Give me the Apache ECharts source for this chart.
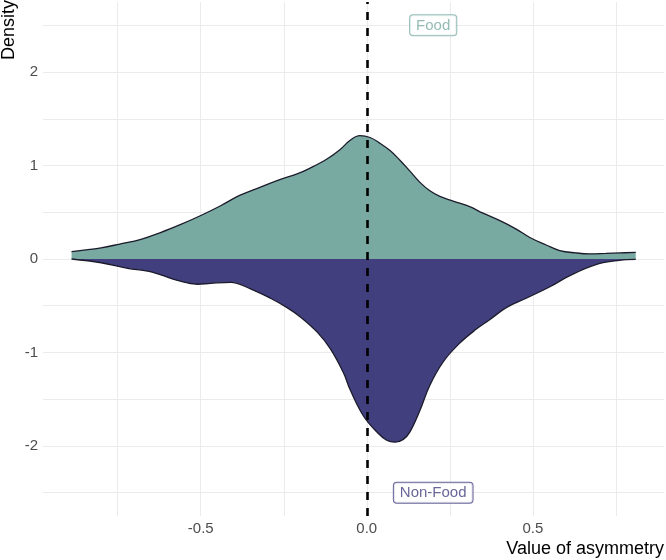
<!DOCTYPE html>
<html>
<head>
<meta charset="utf-8">
<script src="https://cdn.jsdelivr.net/npm/echarts@6/dist/echarts.min.js"></script>
<style>html,body{margin:0;padding:0;background:#fff}#c{width:666px;height:560px}</style>
</head>
<body>
<div id="c"></div>
<script>
// Food density (upper half)
const foodX = [-0.889,-0.80,-0.744,-0.68,-0.623,-0.56,-0.503,-0.44,-0.383,-0.32,-0.262,-0.21,-0.172,-0.12,-0.081,-0.05,-0.021,0.01,0.039,0.07,0.099,0.13,0.160,0.19,0.220,0.26,0.310,0.35,0.401,0.45,0.491,0.54,0.581,0.63,0.672,0.72,0.762,0.81];
const foodY = [0.08,0.12,0.16,0.21,0.28,0.37,0.46,0.57,0.68,0.77,0.85,0.91,0.97,1.07,1.17,1.27,1.32,1.30,1.24,1.16,1.06,0.94,0.82,0.73,0.67,0.62,0.56,0.49,0.41,0.32,0.23,0.15,0.09,0.065,0.055,0.06,0.065,0.07];
// Non-Food density (drawn mirrored below zero)
const nonFoodX = [-0.889,-0.80,-0.72,-0.66,-0.62,-0.57,-0.51,-0.47,-0.41,-0.35,-0.29,-0.24,-0.20,-0.15,-0.11,-0.07,-0.05,-0.01,0.03,0.06,0.085,0.11,0.13,0.16,0.19,0.23,0.28,0.33,0.37,0.42,0.48,0.55,0.61,0.69,0.76,0.81];
const nonFoodY = [0.0,0.04,0.10,0.13,0.17,0.23,0.27,0.26,0.25,0.32,0.42,0.52,0.62,0.78,0.96,1.22,1.40,1.68,1.85,1.94,1.96,1.93,1.85,1.62,1.35,1.10,0.90,0.75,0.65,0.52,0.42,0.30,0.18,0.06,0.015,0.005];
// Axis ticks and labels
const xTickLabels = [-0.5, 0, 0.5];
const xGridValues = [-0.75, -0.5, -0.25, 0, 0.25, 0.5, 0.75];
const yTickLabels = [-2, -1, 0, 1, 2];
const yGridValues = [-2.5, -2, -1.5, -1, -0.5, 0, 0.5, 1, 1.5, 2, 2.5];
const groupLabels = ['Food', 'Non-Food'];
const labelPos = [[0.2, 2.5], [0.2, -2.5]];

const foodColor = '#79AAA1';
const nonFoodColor = '#423F7E';
const outline = '#1b1b2b';

const foodData = foodX.map((x, i) => [x, foodY[i]]);
const nonFoodData = nonFoodX.map((x, i) => [x, -nonFoodY[i]]);

const chart = echarts.init(document.getElementById('c'), null, {renderer: 'canvas'});
const font = 'Liberation Sans, Arial, sans-serif';
chart.setOption({
  animation: false,
  backgroundColor: '#ffffff',
  grid: {left: 43, right: 2, top: 2, bottom: 44, containLabel: false},
  xAxis: {
    type: 'value', min: -0.975, max: 0.895,
    axisLine: {show: false},
    axisTick: {show: false, customValues: xGridValues},
    axisLabel: {customValues: xTickLabels, color: '#4D4D4D', fontSize: 15, fontFamily: font, margin: 5,
      formatter: v => v === 0 ? '0.0' : v.toFixed(1)},
    splitLine: {show: true, lineStyle: {color: '#EBEBEB', width: 1}}
  },
  yAxis: {
    type: 'value', min: -2.75, max: 2.75,
    axisLine: {show: false},
    axisTick: {show: false, customValues: yGridValues},
    axisLabel: {customValues: yTickLabels, color: '#4D4D4D', fontSize: 15, fontFamily: font, margin: 5,
      formatter: v => String(v)},
    splitLine: {show: true, lineStyle: {color: '#EBEBEB', width: 1}}
  },
  series: [
    {
      name: groupLabels[0], type: 'line', data: foodData, smooth: 0.4, symbol: 'none',
      lineStyle: {color: outline, width: 1.3},
      areaStyle: {color: foodColor, opacity: 1, origin: 0},
      z: 2
    },
    {
      name: groupLabels[1], type: 'line', data: nonFoodData, smooth: 0.4, symbol: 'none',
      lineStyle: {color: outline, width: 1.3},
      areaStyle: {color: nonFoodColor, opacity: 1, origin: 0},
      z: 2,
      markLine: {
        silent: true, symbol: 'none', label: {show: false},
        lineStyle: {color: '#000', width: 2.6, type: [8, 8]},
        data: [{xAxis: 0}]
      }
    },
    {
      type: 'scatter', symbolSize: 0, z: 5,
      data: [
        {value: labelPos[0], name: groupLabels[0], label: {color: foodColor, borderColor: foodColor}},
        {value: labelPos[1], name: groupLabels[1], label: {color: nonFoodColor, borderColor: nonFoodColor}}
      ],
      label: {
        show: true, position: 'inside', formatter: p => p.name,
        fontSize: 15, fontFamily: font, backgroundColor: '#fff', borderWidth: 1,
        borderRadius: 3, padding: [3, 6, 2, 6]
      }
    }
  ],
  graphic: [
    {type: 'text', left: 0, top: 0, rotation: Math.PI/2, x: 1, y: 68,
      style: {text: 'Density', fill: '#000', font: '18px Liberation Sans, Arial, sans-serif'}},
    {type: 'text', right: 2, bottom: 2,
      style: {text: 'Value of asymmetry', fill: '#000', font: '18px Liberation Sans, Arial, sans-serif'}}
  ]
});
</script>
</body>
</html>
